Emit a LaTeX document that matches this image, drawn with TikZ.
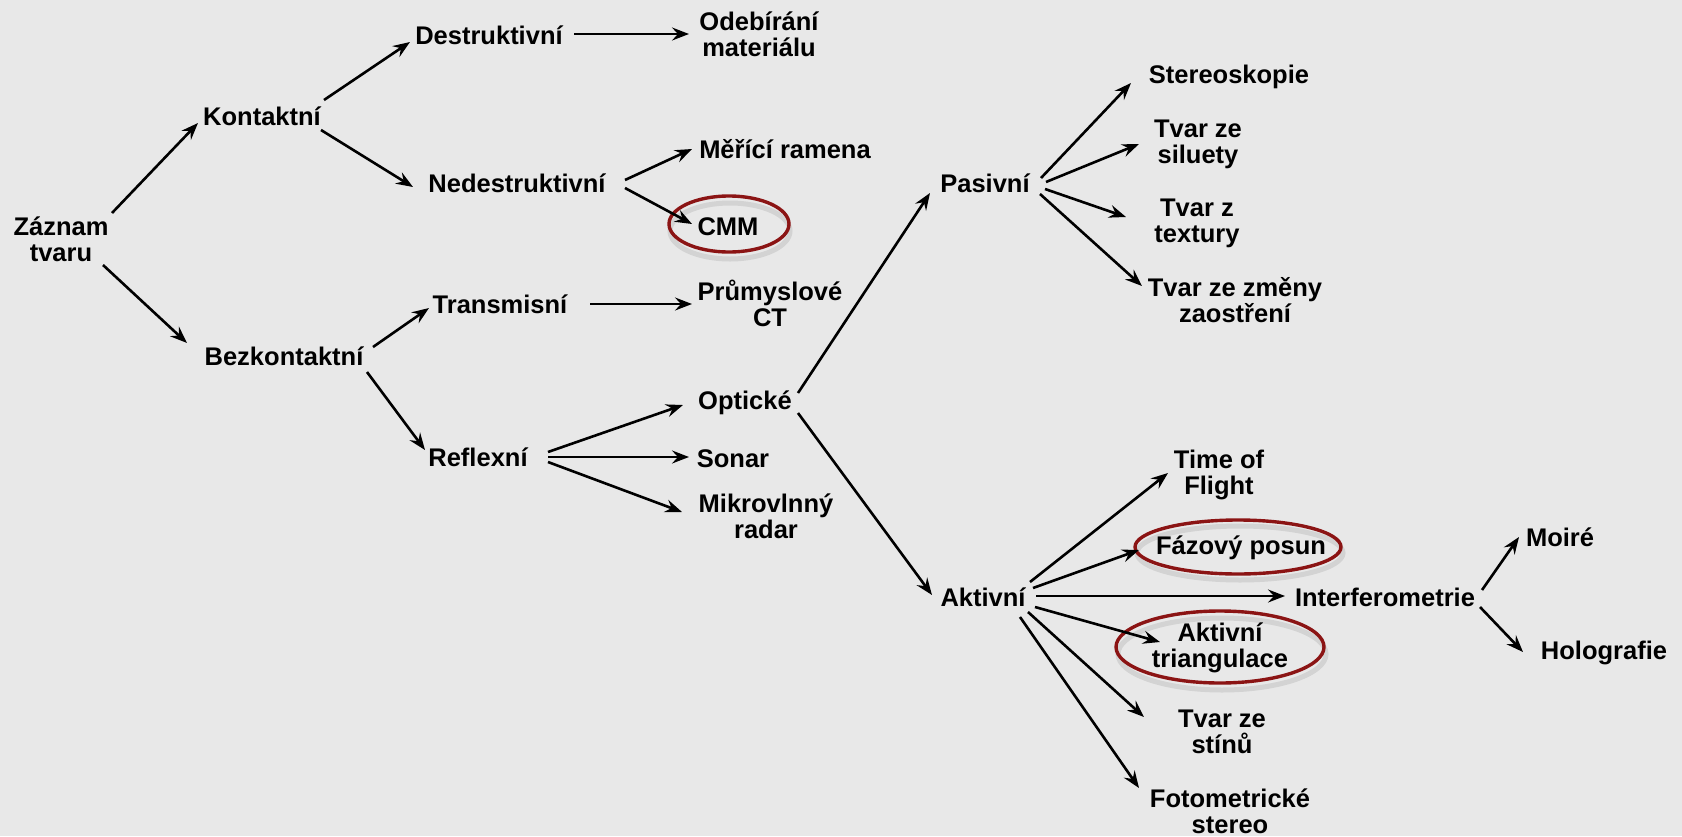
\documentclass[tikz,border=0pt]{standalone}
\usepackage{fontspec}
\setmainfont{Liberation Sans}
\usetikzlibrary{arrows.meta}
\definecolor{bgc}{HTML}{E8E8E8}
\definecolor{hlc}{HTML}{8B1414}
\begin{document}
\begin{tikzpicture}[x=1pt,y=-1pt,
  lbl/.style={font=\bfseries\fontsize{25.5}{26}\selectfont, align=center, inner sep=0pt, text=black},
  arr/.style={line width=2.6pt, -{Stealth[length=17pt,width=13pt,inset=6pt]}},
  hl/.style={draw=hlc, line width=3.4pt},
  hlshadow/.style={draw=black, opacity=0.09, line width=5pt}]
\fill[bgc] (0,0) rectangle (1682,836);
\useasboundingbox (0,0) rectangle (1682,836);
% nodes
\node[lbl] (zt)  at (61,239)  {Záznam\\tvaru};
\node[lbl] (kon) at (262,116) {Kontaktní};
\node[lbl] (bez) at (284,356) {Bezkontaktní};
\node[lbl] (des) at (489,35)  {Destruktivní};
\node[lbl] (ned) at (517,183) {Nedestruktivní};
\node[lbl] (ode) at (759,34)  {Odebírání\\materiálu};
\node[lbl] (mer) at (785,149) {Měřící ramena};
\node[lbl] (cmm) at (728,227) {CMM};
\node[lbl] (tra) at (500,304) {Transmisní};
\node[lbl] (pru) at (770,303) {Průmyslové\\CT};
\node[lbl] (ref) at (478,457) {Reflexní};
\node[lbl] (opt) at (745,403) {Optické};
\node[lbl] (son) at (733,459) {Sonar};
\node[lbl] (mik) at (766,516) {Mikrovlnný\\radar};
\node[lbl] (pas) at (985,183) {Pasivní};
\node[lbl] (ste) at (1229,77) {Stereoskopie};
\node[lbl] (sil) at (1198,144) {Tvar ze\\siluety};
\node[lbl] (tex) at (1197,223) {Tvar z\\textury};
\node[lbl] (zme) at (1235,300) {Tvar ze změny\\zaostření};
\node[lbl] (akt) at (983,597) {Aktivní};
\node[lbl] (tof) at (1219,475) {Time of\\Flight};
\node[lbl] (faz) at (1241,548) {Fázový posun};
\node[lbl] (int) at (1385,597) {Interferometrie};
\node[lbl] (atr) at (1220,648) {Aktivní\\triangulace};
\node[lbl] (sti) at (1222,732) {Tvar ze\\stínů};
\node[lbl] (fot) at (1230,811) {Fotometrické\\stereo};
\node[lbl] (moi) at (1560,537) {Moiré};
\node[lbl] (hol) at (1604,653) {Holografie};
% highlight ellipses
\draw[hlshadow] ([shift={(2,4)}]cmm.center) ellipse [x radius=60pt, y radius=28pt];
\draw[hl] ([shift={(1,-3)}]cmm.center) ellipse [x radius=60pt, y radius=28pt];
\draw[hlshadow] ([shift={(-1,5)}]faz.center) ellipse [x radius=103pt, y radius=27pt];
\draw[hl] ([shift={(-3,-1)}]faz.center) ellipse [x radius=103pt, y radius=27pt];
\draw[hlshadow] ([shift={(2,6)}]atr.center) ellipse [x radius=104pt, y radius=36pt];
\draw[hl] ([shift={(0,-1)}]atr.center) ellipse [x radius=104pt, y radius=36pt];
% connectors
\draw[arr] ([shift={(51,-26)}]zt.center) -- ([shift={(-64,7)}]kon.center);
\draw[arr] ([shift={(42,26)}]zt.center) -- ([shift={(-97,-13)}]bez.center);
\draw[arr] ([shift={(62,-16)}]kon.center) -- ([shift={(-79,7)}]des.center);
\draw[arr] ([shift={(59,14)}]kon.center) -- ([shift={(-104,4)}]ned.center);
\draw[arr] ([shift={(85,-1)}]des.center) -- ([shift={(-70,0)}]ode.center);
\draw[arr] ([shift={(108,-3)}]ned.center) -- ([shift={(-93,0)}]mer.center);
\draw[arr] ([shift={(108,5)}]ned.center) -- ([shift={(-36,-3)}]cmm.center);
\draw[arr] ([shift={(89,-9)}]bez.center) -- ([shift={(-71,4)}]tra.center);
\draw[arr] ([shift={(83,16)}]bez.center) -- ([shift={(-53,-7)}]ref.center);
\draw[arr] ([shift={(90,0)}]tra.center) -- ([shift={(-78,1)}]pru.center);
\draw[arr] ([shift={(70,-5)}]ref.center) -- ([shift={(-62,2)}]opt.center);
\draw[arr] ([shift={(70,0)}]ref.center) -- ([shift={(-44,-2)}]son.center);
\draw[arr] ([shift={(70,5)}]ref.center) -- ([shift={(-84,-4)}]mik.center);
\draw[arr] ([shift={(53,-10)}]opt.center) -- ([shift={(-55,10)}]pas.center);
\draw[arr] ([shift={(53,10)}]opt.center) -- ([shift={(-51,-2)}]akt.center);
\draw[arr] ([shift={(56,-5)}]pas.center) -- ([shift={(-98,6)}]ste.center);
\draw[arr] ([shift={(61,-1)}]pas.center) -- ([shift={(-59,0)}]sil.center);
\draw[arr] ([shift={(60,6)}]pas.center) -- ([shift={(-71,-6)}]tex.center);
\draw[arr] ([shift={(55,11)}]pas.center) -- ([shift={(-93,-14)}]zme.center);
\draw[arr] ([shift={(47,-15)}]akt.center) -- ([shift={(-51,-2)}]tof.center);
\draw[arr] ([shift={(50,-9)}]akt.center) -- ([shift={(-102,2)}]faz.center);
\draw[arr] ([shift={(53,-1)}]akt.center) -- ([shift={(-100,-1)}]int.center);
\draw[arr] ([shift={(52,10)}]akt.center) -- ([shift={(-60,-6)}]atr.center);
\draw[arr] ([shift={(45,15)}]akt.center) -- ([shift={(-78,-15)}]sti.center);
\draw[arr] ([shift={(37,20)}]akt.center) -- ([shift={(-91,-23)}]fot.center);
\draw[arr] ([shift={(97,-7)}]int.center) -- ([shift={(-41,0)}]moi.center);
\draw[arr] ([shift={(95,10)}]int.center) -- ([shift={(-81,-1)}]hol.center);
\end{tikzpicture}
\end{document}
